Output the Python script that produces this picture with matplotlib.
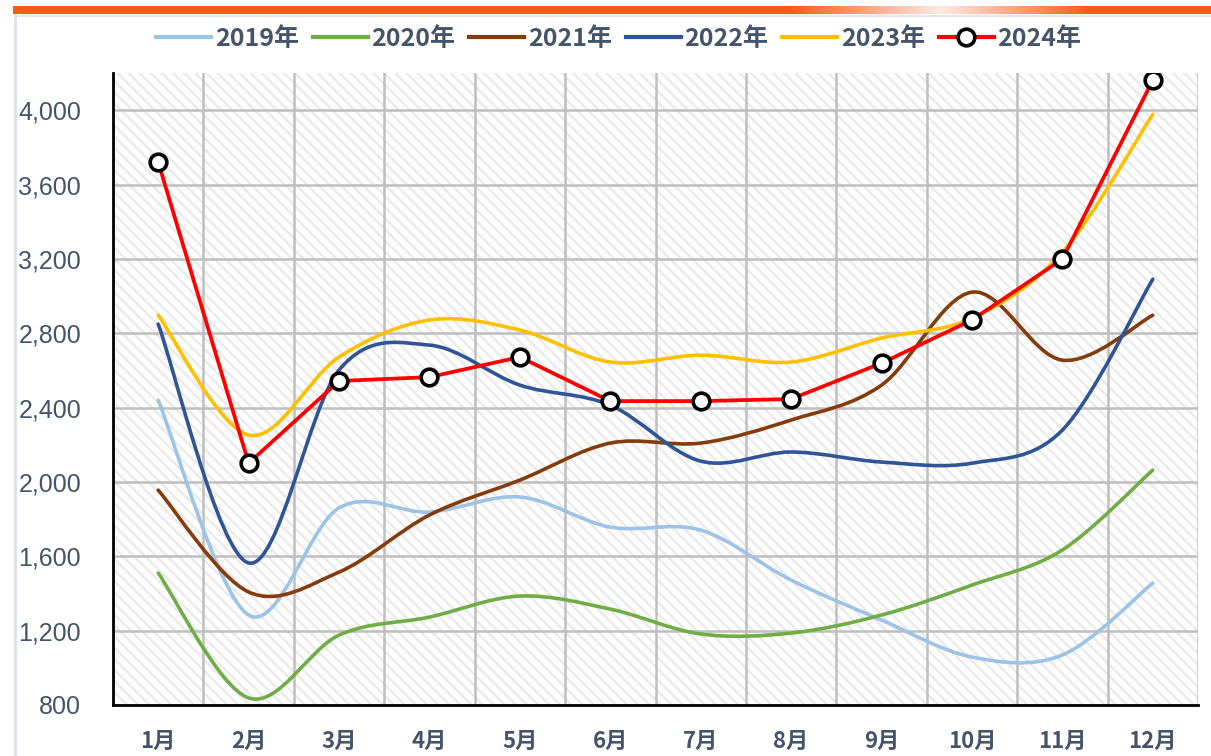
import numpy as np
import matplotlib
matplotlib.use('Agg')
import matplotlib.pyplot as plt
from matplotlib.path import Path
from matplotlib.patches import PathPatch, Rectangle
from matplotlib.lines import Line2D

plt.rcParams['font.family'] = ['Noto Sans CJK SC', 'DejaVu Sans']
plt.rcParams['hatch.linewidth'] = 1.8
plt.rcParams['hatch.color'] = '#EBEBEB'

# ---------------------------------------------------------------------------
# data
# ---------------------------------------------------------------------------
months = ['1月', '2月', '3月', '4月', '5月', '6月',
          '7月', '8月', '9月', '10月', '11月', '12月']
years = ['2019年', '2020年', '2021年', '2022年', '2023年', '2024年']

v2019 = [2440, 1284, 1860, 1838, 1919, 1757, 1741, 1472, 1257, 1058, 1069, 1456]
v2020 = [1510, 838, 1176, 1273, 1386, 1316, 1182, 1187, 1284, 1445, 1634, 2064]
v2021 = [1956, 1408, 1515, 1822, 2010, 2209, 2209, 2333, 2521, 3021, 2655, 2897]
v2022 = [2849, 1564, 2602, 2736, 2521, 2413, 2112, 2161, 2107, 2101, 2279, 3091]
v2023 = [2897, 2252, 2672, 2871, 2817, 2645, 2682, 2645, 2774, 2881, 3236, 3978]
v2024 = [3720, 2101, 2543, 2564, 2672, 2435, 2435, 2446, 2639, 2871, 3199, 4161]

colors = ['#9DC3E6', '#70AD47', '#843C0C', '#2F5597', '#FFC000', '#FF0000']
txt_col = '#44546A'


def smooth_path(x, y):
    """Excel-like smoothed line as cubic Bezier segments (Catmull-Rom style)."""
    pts = np.column_stack([x, y]).astype(float)
    n = len(pts)
    verts = [pts[0]]
    codes = [Path.MOVETO]
    for i in range(n - 1):
        p0 = pts[i - 1] if i > 0 else pts[i]
        p1, p2 = pts[i], pts[i + 1]
        p3 = pts[i + 2] if i + 2 < n else pts[i + 1]
        c1 = p1 + (p2 - p0) / 6.0
        c2 = p2 - (p3 - p1) / 6.0
        verts += [c1, c2, p2]
        codes += [Path.CURVE4] * 3
    return Path(verts, codes)


fig = plt.figure(figsize=(12.11, 7.56), dpi=100)
ax = fig.add_axes([113 / 1211, 1 - 705 / 756, 1085 / 1211, 632 / 756])

# top orange banner with faded section
w = 1198
xs = np.arange(w) + 13
fade = np.clip(np.abs(xs - 940) / 150.0, 0, 1)
fade = 0.12 + 0.88 * fade
orange = np.array([252, 90, 26]) / 255.0
row = orange[None, :] * fade[:, None] + (1 - fade[:, None]) * np.array([1, 1, 1])
banner = np.repeat(row[None, :, :], 8, axis=0)
fig.figimage(banner, xo=13, yo=756 - 14, origin='upper', zorder=5)
fig.add_artist(Line2D([15 / 1211, 15 / 1211], [0, 1 - 15 / 756],
                      color='#DCE2EA', lw=2, transform=fig.transFigure))
fig.add_artist(Line2D([15 / 1211, 1], [1 - 15.5 / 756, 1 - 15.5 / 756],
                      color='#E4E8EE', lw=1.5, transform=fig.transFigure))

x = np.arange(len(months))

# hatched plot background
ax.add_patch(Rectangle((0, 0), 1, 1, transform=ax.transAxes, facecolor='white',
                       edgecolor='#EBEBEB', hatch='\\\\\\', lw=0, zorder=0))

series = [v2019, v2020, v2021, v2022, v2023]
for vals, c in zip(series, colors[:5]):
    ax.add_patch(PathPatch(smooth_path(x, vals), facecolor='none', edgecolor=c,
                           lw=2.6, capstyle='round', zorder=3))
ax.plot(x, v2024, color=colors[5], lw=2.7, marker='o', markersize=12,
        markerfacecolor='white', markeredgecolor='black', markeredgewidth=2.6,
        zorder=4)

ax.set_xlim(-0.5, 11.5)
ax.set_ylim(800, 4200)
ax.set_xticks(x)
ax.set_xticklabels(months, fontsize=16, fontweight='bold', color=txt_col)
ax.set_xticks(np.arange(-0.5, 12, 1), minor=True)
ax.set_yticks(np.arange(800, 4001, 400))
ax.set_yticklabels([f'{v:,}' for v in range(800, 4001, 400)],
                   fontsize=18, color=txt_col)
for t in ax.get_yticklabels():
    t.set_fontfamily('Liberation Sans')
ax.tick_params(axis='both', which='both', length=0)
ax.tick_params(axis='y', pad=23)
ax.tick_params(axis='x', pad=18)
ax.grid(True, axis='y', which='major', color='#BFBFBF', lw=1.8, zorder=1)
ax.grid(True, axis='x', which='minor', color='#BFBFBF', lw=1.8, zorder=1)
ax.set_axisbelow(True)
for s in ['top', 'right']:
    ax.spines[s].set_visible(False)
for s in ['left', 'bottom']:
    ax.spines[s].set_color('black')
    ax.spines[s].set_linewidth(2)
    ax.spines[s].set_zorder(5)

handles = [Line2D([], [], color=c, lw=3) for c in colors[:5]]
handles.append(Line2D([], [], color=colors[5], lw=3, marker='o', markersize=12,
                      markerfacecolor='white', markeredgecolor='black',
                      markeredgewidth=2.6))
leg = fig.legend(handles, years, loc='center', bbox_to_anchor=(0.511, 1 - 39 / 756),
                 ncol=6, frameon=False, handlelength=2.2, handletextpad=0.15,
                 columnspacing=0.55, prop={'size': 18, 'weight': 'bold'})
for t in leg.get_texts():
    t.set_color(txt_col)

fig.savefig('out.png', dpi=100)
